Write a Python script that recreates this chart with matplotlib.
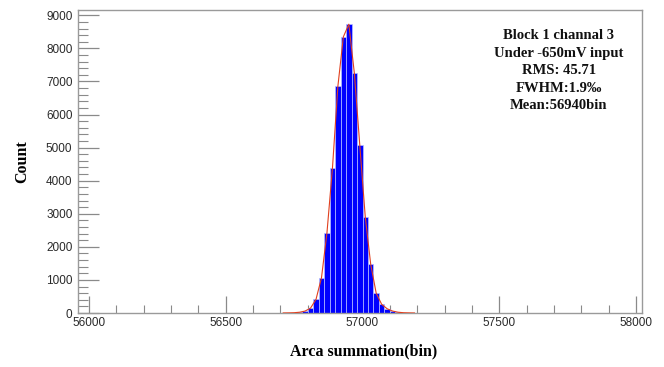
import matplotlib
matplotlib.use("Agg")
import matplotlib.pyplot as plt
from matplotlib.ticker import MultipleLocator

# Histogram data: left edge of each 20-bin wide bar and its count
bin_edges_left = [56700, 56720, 56740, 56760, 56780, 56800, 56820, 56840, 56860, 56880,
                  56900, 56920, 56940, 56960, 56980, 57000, 57020, 57040, 57060, 57080,
                  57100, 57120, 57140, 57160, 57180]
counts = [3, 5, 10, 25, 60, 150, 414, 1067, 2425, 4370,
          6860, 8350, 8730, 7260, 5075, 2910, 1470, 600, 265, 130,
          60, 25, 10, 5, 2]
bin_width = 20

info_lines = ["Block 1 channal 3", "Under -650mV input", "RMS: 45.71",
              "FWHM:1.9\u2030", "Mean:56940bin"]
x_label = "Arca summation(bin)"
y_label = "Count"

fig = plt.figure(figsize=(6.64, 3.67), dpi=100)
ax = fig.add_axes([0.1175, 0.147, 0.8495, 0.8258])

ax.bar(bin_edges_left, counts, width=bin_width, align="edge",
       color="#0000ff", edgecolor="#b8c0ff", linewidth=0.5, zorder=2)
centers = [e + bin_width / 2 for e in bin_edges_left]
ax.plot(centers, counts, color="#e0401e", linewidth=0.8, zorder=3)

ax.set_xlim(55960, 58022)
ax.set_ylim(0, 9160)

ax.xaxis.set_major_locator(MultipleLocator(500))
ax.xaxis.set_minor_locator(MultipleLocator(100))
ax.yaxis.set_major_locator(MultipleLocator(1000))
ax.yaxis.set_minor_locator(MultipleLocator(200))

tick_color = "#8a8a8a"
ax.tick_params(axis="both", which="major", direction="in", length=12, width=0.9,
               color=tick_color, labelsize=8.5, labelcolor="#2a2a2a",
               top=False, right=False)
ax.tick_params(axis="both", which="minor", direction="in", length=6, width=0.8,
               color=tick_color, top=False, right=False)
ax.tick_params(axis="y", which="major", length=15, pad=4)
ax.tick_params(axis="y", which="minor", length=7)
ax.tick_params(axis="x", which="major", pad=3)
for lab in ax.get_xticklabels() + ax.get_yticklabels():
    lab.set_fontfamily(["Liberation Sans", "DejaVu Sans"])

for sp in ax.spines.values():
    sp.set_color("#9a9a9a")
    sp.set_linewidth(1.0)

serif = ["Liberation Serif", "DejaVu Serif"]
fig.text(0.548, 0.042, x_label, ha="center", va="center", fontsize=11.5,
         fontweight="bold", family=serif)
fig.text(0.033, 0.56, y_label, ha="center", va="center", fontsize=11.5,
         fontweight="bold", family=serif, rotation=90)

ax.text(0.852, 0.800, "\n".join(info_lines), transform=ax.transAxes, ha="center",
        va="center", fontsize=10.5, fontweight="bold", family=serif, linespacing=1.45,
        color="#111111")

fig.savefig("out.png", dpi=100)
